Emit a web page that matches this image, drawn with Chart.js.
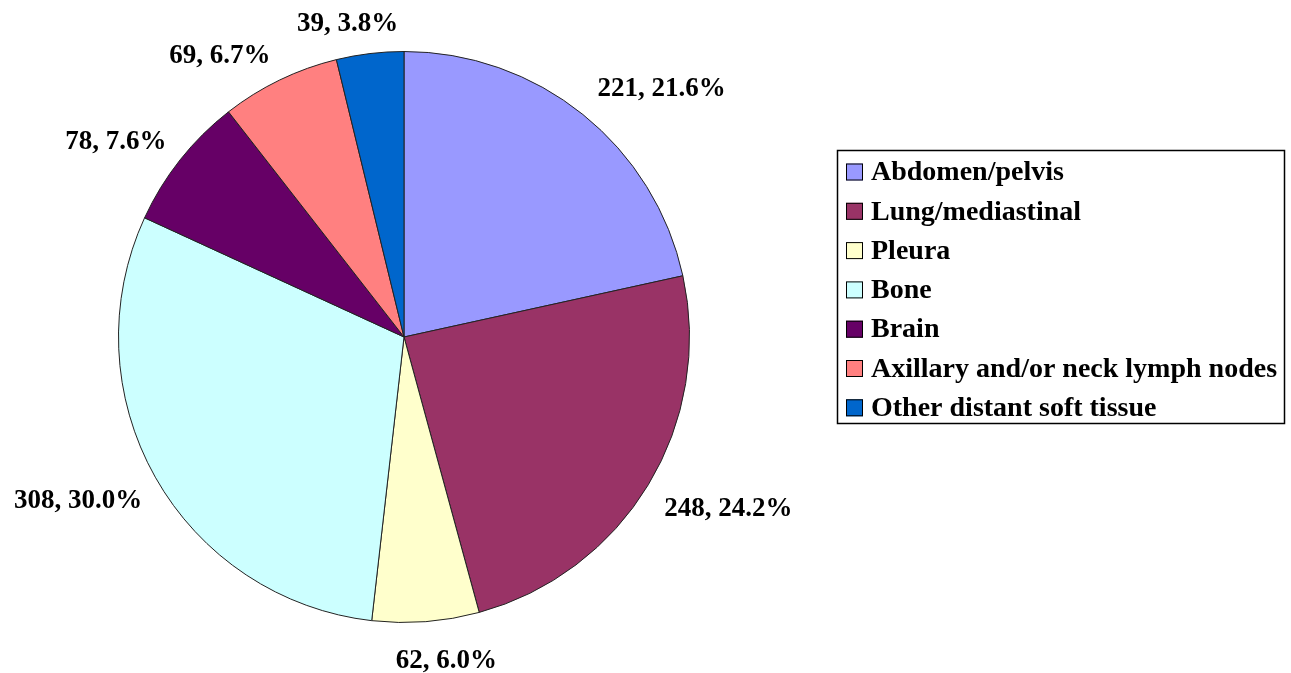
<!DOCTYPE html>
<html>
<head>
<meta charset="utf-8">
<script src="https://cdn.jsdelivr.net/npm/chart.js@4.4.1/dist/chart.umd.min.js"></script>
<style>
  html, body { margin:0; padding:0; background:#fff; }
  #wrap { position:relative; width:1291px; height:673px; }
</style>
</head>
<body>
<div id="wrap"><canvas id="pieChart"></canvas></div>
<script>
// data
const categories = ['Abdomen/pelvis', 'Lung/mediastinal', 'Pleura', 'Bone', 'Brain', 'Axillary and/or neck lymph nodes', 'Other distant soft tissue'];
const counts     = [221, 248, 62, 308, 78, 69, 39];
const colors     = ['#9999FF', '#993366', '#FFFFCC', '#CCFFFF', '#660066', '#FF8080', '#0066CC'];
// small per-label nudges (px) so labels sit where the original put them
const labelNudge = [[26,1],[8,7],[15,6],[-4,7],[-9,3],[-29,6],[-14,4]];

const LABEL_FONT  = 'bold 27px "Liberation Serif", "Times New Roman", serif';
const LEGEND_FONT = 'bold 28px "Liberation Serif", "Times New Roman", serif';
const total = counts.reduce((a,b)=>a+b,0);

// value + percent labels outside each slice
const sliceLabels = {
  id: 'sliceLabels',
  afterDatasetsDraw(chart){
    const ctx = chart.ctx;
    const arcs = chart.getDatasetMeta(0).data;
    ctx.save();
    ctx.font = LABEL_FONT;
    ctx.fillStyle = '#000';
    ctx.textBaseline = 'middle';
    ctx.textAlign = 'center';
    arcs.forEach((arc, i) => {
      const mid = (arc.startAngle + arc.endAngle) / 2;
      const r = arc.outerRadius + 20;
      const txt = counts[i] + ', ' + (counts[i] / total * 100).toFixed(1) + '%';
      const w = ctx.measureText(txt).width, h = 27;
      const ax = arc.x + Math.cos(mid) * r, ay = arc.y + Math.sin(mid) * r;
      const cx = ax + Math.cos(mid) * w / 2 + labelNudge[i][0];
      const cy = ay + Math.sin(mid) * h / 2 + labelNudge[i][1];
      ctx.fillText(txt, cx, cy);
    });
    ctx.restore();
  }
};

// boxed legend on the right
const boxLegend = {
  id: 'boxLegend',
  afterDraw(chart){
    const ctx = chart.ctx;
    const x0 = 837, y0 = 150, bw = 447, bh = 273;
    ctx.save();
    ctx.strokeStyle = '#000';
    ctx.lineWidth = 1.5;
    ctx.strokeRect(x0 + 0.5, y0 + 0.5, bw, bh);
    ctx.font = LEGEND_FONT;
    ctx.textBaseline = 'middle';
    ctx.textAlign = 'left';
    categories.forEach((c, i) => {
      const yc = 172 + i * 39.3;
      ctx.fillStyle = colors[i];
      ctx.fillRect(846, yc - 8.5, 17, 17);
      ctx.strokeStyle = '#000';
      ctx.lineWidth = 1;
      ctx.strokeRect(846.5, yc - 8, 16, 16);
      ctx.fillStyle = '#000';
      ctx.fillText(c, 871, yc + 1);
    });
    ctx.restore();
  }
};

new Chart(document.getElementById('pieChart'), {
  type: 'pie',
  data: {
    labels: categories,
    datasets: [{
      data: counts,
      backgroundColor: colors,
      borderColor: '#222',
      borderWidth: 1
    }]
  },
  options: {
    responsive: true,
    maintainAspectRatio: false,
    animation: false,
    layout: { padding: { left: 118, right: 601, top: 51, bottom: 50 } },
    plugins: {
      legend: { display: false },
      tooltip: { enabled: false }
    }
  },
  plugins: [sliceLabels, boxLegend]
});
</script>
</body>
</html>
